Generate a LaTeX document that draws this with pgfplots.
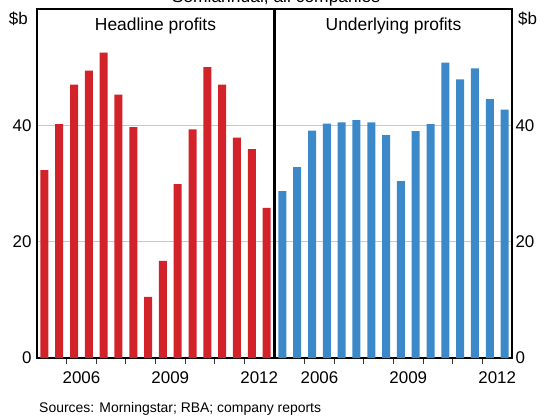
\documentclass[border=0pt]{standalone}
\usepackage{pgfplots}
\pgfplotsset{compat=1.18}
\usepackage{pgfplotstable}
\usepackage{fontspec}
\setmainfont{Liberation Sans}
\definecolor{rbared}{RGB}{210,35,43}
\definecolor{rbablue}{RGB}{59,137,201}
\definecolor{gridgray}{RGB}{200,200,200}

\pgfplotstableread{
x y
0.5 32.3
1.5 40.2
2.5 47.0
3.5 49.4
4.5 52.5
5.5 45.3
6.5 39.7
7.5 10.5
8.5 16.7
9.5 29.9
10.5 39.3
11.5 50.0
12.5 47.0
13.5 37.9
14.5 35.9
15.5 25.8
}\headline

\pgfplotstableread{
x y
0.5 28.7
1.5 32.8
2.5 39.1
3.5 40.3
4.5 40.5
5.5 40.9
6.5 40.5
7.5 38.3
8.5 30.4
9.5 39.0
10.5 40.2
11.5 50.8
12.5 47.9
13.5 49.8
14.5 44.5
15.5 42.7
}\underlying

\pgfplotsset{panel/.style={
  scale only axis, width=237bp, height=349bp,
  xmin=0, xmax=16, ymin=0, ymax=60,
  axis line style={line width=1.2bp, black},
  xtick={2,4,...,14}, xticklabels={},
  xtick pos=bottom, tick align=inside, major tick length=6bp,
  x tick style={black!80, line width=1bp},
  extra x ticks={3,9,15}, extra x tick labels={2006,2009,2012},
  extra x tick style={major tick length=0pt, xticklabel style={yshift=-10bp}},
  ytick={0,20,40}, ymajorgrids, grid style={gridgray, line width=1bp},
  y tick style={draw=none},
  ybar, bar width=8bp,
  tick label style={font=\fontsize{17}{20}\selectfont},
  /pgf/number format/assume math mode=true,
}}

\begin{document}
\begin{tikzpicture}
\path[use as bounding box] (-37bp,-59bp) rectangle (510bp,358bp);
\clip (-37bp,-59bp) rectangle (510bp,358bp);
\begin{axis}[panel, at={(0bp,0bp)}, anchor=south west,
  yticklabel style={xshift=-2bp}]
\addplot[fill=rbared, draw=none] table[x=x,y=y] {\headline};
\end{axis}
\begin{axis}[panel, at={(238bp,0bp)}, anchor=south west,
  yticklabel pos=right, yticklabel style={xshift=0bp}]
\addplot[fill=rbablue, draw=none] table[x=x,y=y] {\underlying};
\end{axis}
\node[anchor=base, font=\fontsize{17.5}{20}\selectfont] at (239bp,355bp) {Semiannual, all companies};
\node[anchor=base, font=\fontsize{17.5}{20}\selectfont] at (118.5bp,327bp) {Headline profits};
\node[anchor=base, font=\fontsize{17.5}{20}\selectfont] at (356.5bp,327bp) {Underlying profits};
\node[anchor=base east, inner sep=0pt, font=\fontsize{17}{20}\selectfont] at (-9bp,333bp) {\$b};
\node[anchor=base west, inner sep=0pt, font=\fontsize{17}{20}\selectfont] at (481bp,333bp) {\$b};
\node[anchor=base west, inner sep=0pt, font=\fontsize{14}{17}\selectfont] at (2bp,-54bp) {Sources: Morningstar; RBA; company reports};
\end{tikzpicture}
\end{document}
